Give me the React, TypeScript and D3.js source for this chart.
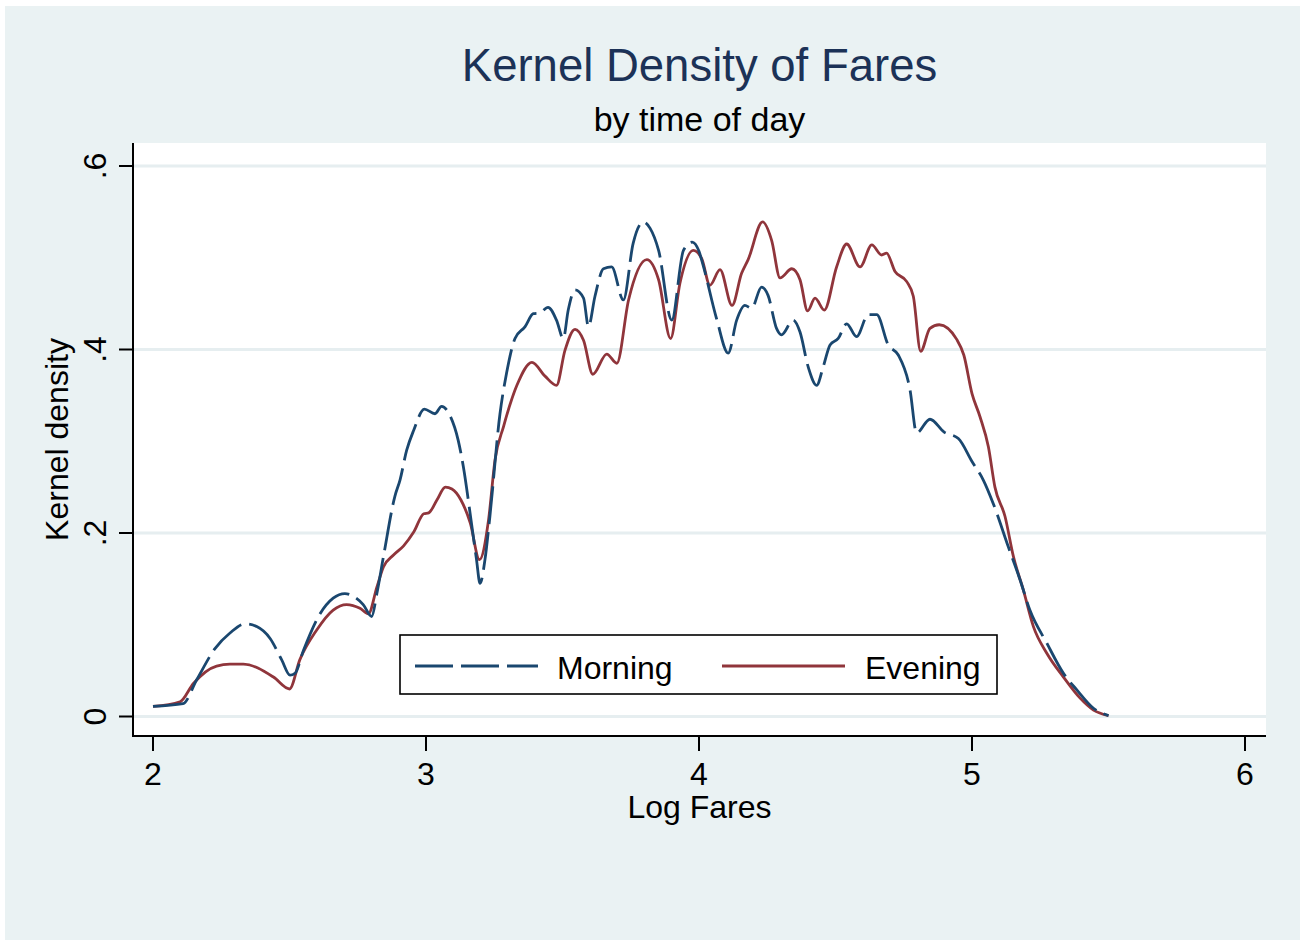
import * as d3 from "d3";
import { useEffect, useRef } from "react";

// log fare (x) and kernel density (y)
const morning: [number, number][] = [
    [2.00, 0.011], [2.11, 0.014], [2.16, 0.040], [2.227, 0.074], [2.282, 0.091],
    [2.337, 0.101], [2.38, 0.098], [2.429, 0.085], [2.471, 0.062], [2.502, 0.045],
    [2.52, 0.047], [2.551, 0.072], [2.612, 0.112], [2.66, 0.129], [2.703, 0.134],
    [2.734, 0.131], [2.77, 0.122], [2.801, 0.109], [2.82, 0.134], [2.844, 0.174],
    [2.886, 0.240], [2.905, 0.258], [2.929, 0.290], [2.955, 0.312], [2.994, 0.335],
    [3.033, 0.330], [3.057, 0.338], [3.088, 0.328], [3.118, 0.301], [3.137, 0.272],
    [3.165, 0.214], [3.185, 0.171], [3.198, 0.145], [3.216, 0.171], [3.234, 0.218],
    [3.271, 0.330], [3.295, 0.374], [3.326, 0.412], [3.363, 0.425], [3.393, 0.439],
    [3.418, 0.440], [3.447, 0.446], [3.478, 0.432], [3.503, 0.412], [3.521, 0.443],
    [3.546, 0.465], [3.577, 0.456], [3.595, 0.425], [3.619, 0.458], [3.650, 0.488],
    [3.680, 0.490], [3.723, 0.454], [3.759, 0.516], [3.796, 0.539], [3.821, 0.532],
    [3.852, 0.508], [3.900, 0.432], [3.943, 0.508], [3.975, 0.517], [4.000, 0.507],
    [4.015, 0.492], [4.064, 0.434], [4.107, 0.396], [4.138, 0.432], [4.168, 0.448],
    [4.193, 0.445], [4.229, 0.468], [4.253, 0.459], [4.284, 0.423], [4.302, 0.416],
    [4.345, 0.432], [4.370, 0.419], [4.400, 0.381], [4.431, 0.361], [4.455, 0.381],
    [4.480, 0.405], [4.510, 0.412], [4.541, 0.428], [4.577, 0.414], [4.620, 0.438],
    [4.651, 0.438], [4.693, 0.405], [4.730, 0.394], [4.773, 0.356], [4.797, 0.309],
    [4.846, 0.324], [4.898, 0.310], [4.950, 0.303], [5.000, 0.278], [5.041, 0.258],
    [5.078, 0.232], [5.133, 0.185], [5.176, 0.149], [5.212, 0.116], [5.274, 0.080],
    [5.335, 0.047], [5.384, 0.029], [5.445, 0.009], [5.500, 0.001],
];

const evening: [number, number][] = [
    [2.00, 0.011], [2.099, 0.016], [2.148, 0.036], [2.233, 0.055], [2.282, 0.057],
    [2.331, 0.057], [2.441, 0.043], [2.500, 0.030], [2.538, 0.062], [2.599, 0.094],
    [2.660, 0.116], [2.709, 0.122], [2.758, 0.118], [2.789, 0.112], [2.820, 0.141],
    [2.844, 0.163], [2.881, 0.176], [2.918, 0.186], [2.955, 0.201], [2.992, 0.221],
    [3.010, 0.222], [3.040, 0.236], [3.071, 0.250], [3.095, 0.248], [3.128, 0.236],
    [3.162, 0.211], [3.196, 0.171], [3.229, 0.214], [3.253, 0.280], [3.284, 0.316],
    [3.333, 0.361], [3.388, 0.386], [3.436, 0.371], [3.478, 0.361], [3.509, 0.399],
    [3.546, 0.422], [3.577, 0.410], [3.611, 0.373], [3.662, 0.395], [3.699, 0.385],
    [3.742, 0.454], [3.809, 0.498], [3.852, 0.476], [3.896, 0.412], [3.930, 0.472],
    [3.979, 0.508], [4.010, 0.499], [4.040, 0.470], [4.077, 0.487], [4.121, 0.448],
    [4.156, 0.483], [4.180, 0.498], [4.233, 0.539], [4.266, 0.519], [4.297, 0.478],
    [4.340, 0.488], [4.370, 0.476], [4.398, 0.442], [4.425, 0.456], [4.459, 0.443],
    [4.504, 0.490], [4.541, 0.515], [4.590, 0.490], [4.633, 0.514], [4.669, 0.503],
    [4.687, 0.505], [4.718, 0.485], [4.761, 0.474], [4.785, 0.458], [4.812, 0.398],
    [4.846, 0.423], [4.880, 0.427], [4.944, 0.411], [4.970, 0.394], [5.000, 0.352],
    [5.029, 0.327], [5.060, 0.294], [5.084, 0.250], [5.121, 0.218], [5.152, 0.174],
    [5.188, 0.138], [5.225, 0.098], [5.274, 0.069], [5.335, 0.043], [5.396, 0.020],
    [5.445, 0.007], [5.500, 0.001],
];

const xTicks = [2, 3, 4, 5, 6];
const yTicks = [0, 0.2, 0.4, 0.6];
const yTickLabels = ["0", ".2", ".4", ".6"];

const seriesNames = ["Morning", "Evening"];

const font = "'Liberation Sans', Arial, sans-serif";
const bg = "#eaf2f3";
const navy = "#1a476f";
const maroon = "#90353b";

export default function App() {
    const svgRef = useRef(null);

    useEffect(() => {
        const svg = d3.select(svgRef.current);
        svg.selectAll("*").remove();

        const W = 1306, H = 945;
        const left = 133, right = 1266, top = 143, bottom = 736;

        const x = d3.scaleLinear().domain([2, 6]).range([153, 1245]);
        const y = d3.scaleLinear().domain([0, 0.6]).range([716.5, 166]);

        // outer background
        svg.append("rect").attr("width", W).attr("height", H).attr("fill", "#fff");
        svg.append("rect").attr("x", 5).attr("y", 6).attr("width", 1295).attr("height", 934).attr("fill", bg);

        // plot region
        svg.append("rect")
            .attr("x", left).attr("y", top)
            .attr("width", right - left).attr("height", bottom - top)
            .attr("fill", "#fff");

        // gridlines
        svg.append("g")
            .selectAll("line")
            .data(yTicks)
            .join("line")
            .attr("x1", left + 1).attr("x2", right)
            .attr("y1", d => y(d)).attr("y2", d => y(d))
            .attr("stroke", "#e6eef0")
            .attr("stroke-width", 3);

        // titles
        svg.append("text")
            .attr("x", 699.5).attr("y", 81)
            .attr("text-anchor", "middle")
            .style("font-family", font)
            .style("font-size", "45.5px")
            .attr("fill", "#1c3257")
            .text("Kernel Density of Fares");

        svg.append("text")
            .attr("x", 699.5).attr("y", 131)
            .attr("text-anchor", "middle")
            .style("font-family", font)
            .style("font-size", "34px")
            .attr("fill", "#000")
            .text("by time of day");

        // axes
        const axisG = svg.append("g").attr("stroke", "#000");
        axisG.append("line")
            .attr("x1", left).attr("x2", left).attr("y1", top).attr("y2", bottom + 1)
            .attr("stroke-width", 2);
        axisG.append("line")
            .attr("x1", left - 1).attr("x2", right).attr("y1", bottom).attr("y2", bottom)
            .attr("stroke-width", 2);

        axisG.selectAll(".xt")
            .data(xTicks)
            .join("line")
            .attr("class", "xt")
            .attr("x1", d => x(d)).attr("x2", d => x(d))
            .attr("y1", bottom).attr("y2", bottom + 15)
            .attr("stroke-width", 2);

        axisG.selectAll(".yt")
            .data(yTicks)
            .join("line")
            .attr("class", "yt")
            .attr("x1", left - 14).attr("x2", left)
            .attr("y1", d => y(d)).attr("y2", d => y(d))
            .attr("stroke-width", 2);

        svg.append("g")
            .selectAll("text")
            .data(xTicks)
            .join("text")
            .attr("x", d => x(d)).attr("y", 785)
            .attr("text-anchor", "middle")
            .style("font-family", font)
            .style("font-size", "32px")
            .text(d => d);

        svg.append("g")
            .selectAll("text")
            .data(yTicks)
            .join("text")
            .attr("transform", d => `translate(106,${y(d)})rotate(-90)`)
            .attr("text-anchor", "middle")
            .style("font-family", font)
            .style("font-size", "32px")
            .text((d, i) => yTickLabels[i]);

        svg.append("text")
            .attr("x", 699.5).attr("y", 818)
            .attr("text-anchor", "middle")
            .style("font-family", font)
            .style("font-size", "32px")
            .text("Log Fares");

        svg.append("text")
            .attr("transform", `translate(68,${(top + bottom) / 2})rotate(-90)`)
            .attr("text-anchor", "middle")
            .style("font-family", font)
            .style("font-size", "32px")
            .text("Kernel density");

        // density curves
        const line = d3.line<[number, number]>()
            .x(d => x(d[0]))
            .y(d => y(d[1]))
            .curve(d3.curveMonotoneX);

        svg.append("path")
            .attr("d", line(evening))
            .attr("fill", "none")
            .attr("stroke", maroon)
            .attr("stroke-width", 2.8)
            .attr("stroke-linejoin", "round");

        svg.append("path")
            .attr("d", line(morning))
            .attr("fill", "none")
            .attr("stroke", navy)
            .attr("stroke-width", 2.8)
            .attr("stroke-dasharray", "38 8")
            .attr("stroke-linejoin", "round");

        // legend
        const lg = svg.append("g");
        lg.append("rect")
            .attr("x", 400).attr("y", 635).attr("width", 597).attr("height", 59)
            .attr("fill", "#fff").attr("stroke", "#000").attr("stroke-width", 1.6);

        const items = [
            { name: seriesNames[0], color: navy, dash: "38 8", x0: 415, tx: 557 },
            { name: seriesNames[1], color: maroon, dash: null, x0: 722, tx: 865 },
        ];
        items.forEach(it => {
            lg.append("line")
                .attr("x1", it.x0).attr("x2", it.x0 + 123)
                .attr("y1", 666).attr("y2", 666)
                .attr("stroke", it.color)
                .attr("stroke-width", 2.8)
                .attr("stroke-dasharray", it.dash);
            lg.append("text")
                .attr("x", it.tx).attr("y", 679)
                .style("font-family", font)
                .style("font-size", "32px")
                .text(it.name);
        });
    }, []);

    return (
        <div>
            <style>{`body{margin:0}`}</style>
            <svg ref={svgRef} width={1306} height={945} style={{ display: "block" }}></svg>
        </div>
    );
}
